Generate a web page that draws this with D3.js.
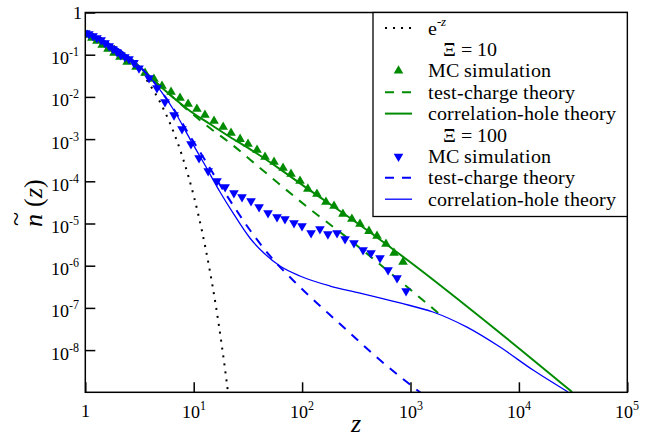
<html>
<head>
<script src="https://d3js.org/d3.v7.min.js"></script>
<style>
@font-face { font-family: "PlotSerif"; src: local("Liberation Serif"), local("LiberationSerif-Regular"), local("Times New Roman"); font-style: normal; }
@font-face { font-family: "PlotSerif"; src: local("Liberation Serif Italic"), local("LiberationSerif-Italic"), local("Times New Roman Italic"); font-style: italic; }
body { margin: 0; background: #fff; }
.lab { font-family: "PlotSerif"; }
</style>
</head>
<body>
<svg width="659" height="437"></svg>
<script>
// tick values and labels
var xTicks = [1, 10, 100, 1000, 10000, 100000];
var xTickExp = ["", "1", "2", "3", "4", "5"];
var yTicks = [1, 1e-1, 1e-2, 1e-3, 1e-4, 1e-5, 1e-6, 1e-7, 1e-8];
var yTickExp = ["", "-1", "-2", "-3", "-4", "-5", "-6", "-7", "-8"];

// e^-z (dotted)
var expZ = [1, 1.5, 2, 3, 4, 5, 6, 7, 8, 10, 12, 14, 16, 18, 20, 21];
var expN = [0.368, 0.223, 0.135, 0.0498, 0.0183, 6.74e-3, 2.48e-3, 9.12e-4, 3.35e-4, 4.54e-5, 6.14e-6, 8.32e-7, 1.13e-7, 1.52e-8, 2.06e-9, 7.58e-10];

// Xi = 10
var mc10Z = [1.04, 1.15, 1.28, 1.43, 1.62, 1.84, 2.09, 2.43, 2.94, 3.56, 4.30, 5.10, 6.18, 7.48, 8.88, 10.7, 12.7, 15.4, 18.7, 22.1,
             26.8, 31.7, 38.4, 45.5, 55.1, 66.7, 79.0, 95.7, 113, 137, 166, 197, 238, 288, 342, 414, 491, 594, 705, 853];
var mc10N = [0.293, 0.249, 0.211, 0.170, 0.136, 0.110, 0.088, 0.067, 0.051, 0.0368, 0.0266, 0.0181, 0.0131, 0.0094, 0.0068, 5.17e-3, 3.72e-3, 2.68e-3, 1.94e-3, 1.4e-3,
             1.0e-3, 7.65e-4, 5.5e-4, 3.77e-4, 2.87e-4, 2.07e-4, 1.49e-4, 1.02e-4, 6.6e-5, 5.0e-5, 3.24e-5, 2.6e-5, 1.68e-5, 1.28e-5, 9.7e-6, 6.6e-6, 5.06e-6, 3.27e-6, 2.0e-6, 1.22e-6];
var tc10Z = [1, 1.37, 1.88, 2.58, 3.56, 4.89, 6.72, 9.25, 14.1, 21.6, 40.9, 106, 277, 800, 1950];
var tc10N = [0.31, 0.223, 0.144, 0.0835, 0.0389, 0.0181, 8.9e-3, 4.39e-3, 1.83e-3, 8.1e-4, 2.07e-4, 2.74e-5, 4.06e-6, 4.34e-7, 6.4e-8];
var ch10Z = [1, 1.37, 1.88, 2.58, 3.56, 4.89, 6.72, 9.25, 14.1, 21.6, 33.0, 62.5, 113, 277, 991, 6700, 30900];
var ch10N = [0.31, 0.223, 0.144, 0.0835, 0.0389, 0.0181, 8.9e-3, 4.63e-3, 2.28e-3, 1.12e-3, 5.8e-4, 1.95e-4, 6.6e-5, 1.35e-5, 1.22e-6, 2.54e-8, 1.02e-9];

// Xi = 100
var mc100Z = [1.01, 1.08, 1.18, 1.28, 1.40, 1.52, 1.66, 1.80, 1.96, 2.13, 2.32, 2.53, 2.81, 3.13, 3.87, 4.58, 5.43, 6.58, 7.80, 9.44,
              11.2, 13.6, 16.4, 19.5, 23.5, 27.9, 33.8, 40.1, 48.5, 58.7, 69.5, 84.2, 99.8, 121, 146, 173, 210, 249, 301, 365, 432, 523, 621, 751, 910];
var mc100N = [0.327, 0.309, 0.277, 0.249, 0.223, 0.189, 0.161, 0.136, 0.116, 0.098, 0.088, 0.079, 0.064, 0.048, 0.028, 0.0163, 7.6e-3, 3.7e-3, 1.73e-3, 7.65e-4,
              3.56e-4, 1.75e-4, 1.02e-4, 7.3e-5, 5.3e-5, 4.25e-5, 3.41e-5, 2.46e-5, 1.77e-5, 1.43e-5, 1.28e-5, 1.03e-5, 8.7e-6, 5.96e-6, 7.4e-6, 5.6e-6, 5.96e-6, 4.3e-6, 3.45e-6, 2.36e-6, 2.0e-6, 1.52e-6, 7.9e-7, 5.1e-7, 2.52e-7];
var tc100Z = [1, 1.37, 1.88, 2.58, 3.56, 4.89, 6.72, 9.25, 12.7, 17.5, 24.0, 33.0, 50.6, 95.5, 224, 523, 1250];
var tc100N = [0.327, 0.236, 0.152, 0.0835, 0.0389, 0.0146, 4.63e-3, 1.18e-3, 3.2e-4, 8.2e-5, 2.33e-5, 7.0e-6, 1.7e-6, 3.13e-7, 4.15e-8, 5.8e-9, 9.6e-10];
var ch100Z = [1, 1.37, 1.88, 2.58, 3.56, 4.89, 6.72, 9.25, 12.7, 17.5, 24.0, 33.0, 45.4, 62.5, 95.5, 181, 342, 800, 1610, 3320, 6700, 13500, 28400];
var ch100N = [0.327, 0.236, 0.152, 0.0835, 0.0389, 0.0146, 4.39e-3, 1.0e-3, 2.43e-4, 5.57e-5, 1.51e-5, 4.53e-6, 1.89e-6, 9.8e-7, 5.7e-7, 3.3e-7, 2.25e-7, 1.31e-7, 8.0e-8, 3.5e-8, 1.18e-8, 3.37e-9, 1.02e-9];

var green = "#008b00", blue = "#0000ff";

var svg = d3.select("svg");
var x = d3.scaleLog().domain([1, 1e5]).range([85.3, 627.3]);
var y = d3.scaleLog().domain([1e-9, 1]).range([392.3, 12.5]);

svg.append("clipPath").attr("id", "clip")
  .append("rect").attr("x", 85.3).attr("y", 12.5).attr("width", 542).attr("height", 379.8);

var plot = svg.append("g").attr("clip-path", "url(#clip)");

function pts(zs, ns) { return zs.map(function (z, i) { return [z, ns[i]]; }); }

var line = d3.line()
  .x(function (d) { return x(d[0]); })
  .y(function (d) { return y(d[1]); })
  .curve(d3.curveMonotoneX);

function drawLine(zs, ns, color, width, dash) {
  plot.append("path")
    .attr("d", line(pts(zs, ns)))
    .attr("fill", "none")
    .attr("stroke", color)
    .attr("stroke-width", width)
    .attr("stroke-dasharray", dash);
}

var tri = d3.symbol().type(d3.symbolTriangle).size(40);

function drawMarks(zs, ns, color, down) {
  plot.append("g").selectAll("path")
    .data(pts(zs, ns))
    .enter().append("path")
    .attr("d", tri)
    .attr("transform", function (d) {
      return "translate(" + x(d[0]) + "," + y(d[1]) + ")" + (down ? " rotate(180)" : "");
    })
    .attr("fill", color);
}

drawLine(expZ, expN, "#000", 2, "2,6");
drawMarks(mc10Z, mc10N, green, false);
drawLine(tc10Z, tc10N, green, 2, "9,8");
drawLine(ch10Z, ch10N, green, 2, null);
drawMarks(mc100Z, mc100N, blue, true);
drawLine(tc100Z, tc100N, blue, 2, "9,8");
drawLine(ch100Z, ch100N, blue, 1.3, null);

// axes, ticks point inward (labels are drawn separately below)
svg.append("g")
  .attr("transform", "translate(0,392.3)")
  .call(d3.axisBottom(x).tickValues(xTicks).tickSize(-10).tickFormat(""))
  .call(function (g) { g.select(".domain").remove(); g.selectAll("text").remove(); });
svg.append("g")
  .attr("transform", "translate(85.3,0)")
  .call(d3.axisLeft(y).tickValues(yTicks).tickSize(-10).tickFormat(""))
  .call(function (g) { g.select(".domain").remove(); g.selectAll("text").remove(); });
svg.selectAll(".tick line").attr("stroke", "#000").attr("stroke-width", 1.5);

svg.append("rect")
  .attr("x", 85.3).attr("y", 12.5).attr("width", 542).attr("height", 379.8)
  .attr("fill", "none").attr("stroke", "#000").attr("stroke-width", 1.5);

var labels = svg.append("g");

function txt(sel) {
  return sel.append("text").attr("class", "lab");
}

// tick labels
xTicks.forEach(function (v, i) {
  var t = txt(labels)
    .attr("x", x(v)).attr("y", xTickExp[i] ? 418 : 417)
    .attr("text-anchor", "middle").attr("font-size", 18);
  t.append("tspan").text(xTickExp[i] ? "10" : "1");
  if (xTickExp[i]) t.append("tspan").attr("dy", -8).attr("font-size", 12).text(xTickExp[i]);
});
yTicks.forEach(function (v, i) {
  var t = txt(labels)
    .attr("x", i === 0 ? 82 : 79)
    .attr("y", y(v) + (yTickExp[i] ? 9.5 : 6.5))
    .attr("text-anchor", "end").attr("font-size", 18);
  t.append("tspan").text(yTickExp[i] ? "10" : "1");
  if (yTickExp[i]) t.append("tspan").attr("dy", -8).attr("font-size", 12).text(yTickExp[i]);
});

// axis titles
txt(labels).attr("x", 356).attr("y", 432)
  .attr("text-anchor", "middle").attr("font-size", 26).attr("font-style", "italic").text("z");

var yl = labels.append("g").attr("transform", "translate(42,202) rotate(-90)");
var ylt = txt(yl).attr("x", -25).attr("y", 0).attr("font-size", 26);
ylt.append("tspan").attr("font-style", "italic").text("n");
ylt.append("tspan").text(" (");
ylt.append("tspan").attr("font-style", "italic").text("z");
ylt.append("tspan").text(")");
txt(yl).attr("x", -17).attr("y", -17.5)
  .attr("text-anchor", "middle").attr("font-size", 26).text("~");

// legend
var legendLabels = ["e", "\u039E = 10", "MC simulation", "test-charge theory", "correlation-hole theory",
                    "\u039E = 100", "MC simulation", "test-charge theory", "correlation-hole theory"];
var legendKind = ["dot", "head", "up", "dash", "solid", "head", "down", "dash", "solid"];
var legendColor = ["#000", null, green, green, green, null, blue, blue, blue];

svg.append("rect")
  .attr("x", 373).attr("y", 12.5).attr("width", 254.3).attr("height", 204)
  .attr("fill", "#fff").attr("stroke", "#000").attr("stroke-width", 1.3);

var leg = svg.append("g");
legendLabels.forEach(function (lab, i) {
  var by = 34.5 + 21.4 * i;
  var k = legendKind[i], c = legendColor[i];
  var t = txt(leg)
    .attr("x", k === "head" ? 443 : 428).attr("y", by)
    .attr("font-size", 20);
  t.append("tspan").text(lab);
  if (i === 0) {
    t.append("tspan").attr("dy", -9).attr("font-size", 13).text("-");
    t.append("tspan").attr("font-size", 13).attr("font-style", "italic").text("z");
  }
  var my = by - 6.5;
  if (k === "dot" || k === "dash" || k === "solid") {
    leg.append("line").attr("x1", 385).attr("x2", 412).attr("y1", my).attr("y2", my)
      .attr("stroke", c)
      .attr("stroke-width", k === "dot" ? 2 : (i === 8 ? 1.3 : 2))
      .attr("stroke-dasharray", k === "dot" ? "2,6" : (k === "dash" ? "9,8" : null));
  } else if (k === "up" || k === "down") {
    leg.append("path").attr("d", tri)
      .attr("transform", "translate(398.5," + my + ")" + (k === "down" ? " rotate(180)" : ""))
      .attr("fill", c);
  }
});
</script>
</body>
</html>
